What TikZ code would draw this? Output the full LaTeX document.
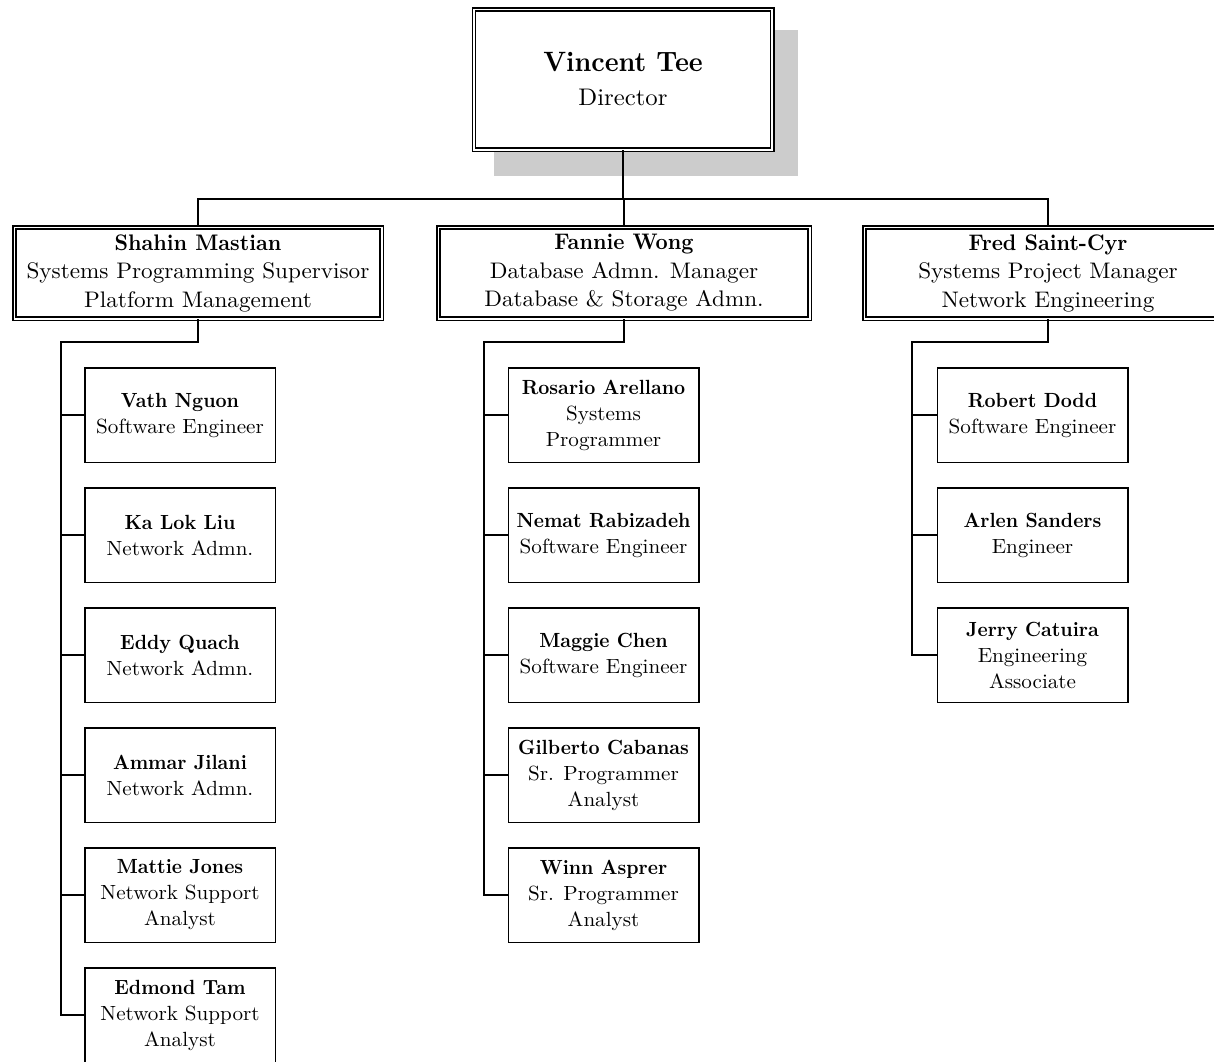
\documentclass[tikz,border=0pt]{standalone}
\usepackage{fontspec}
\setmainfont{lmroman10-regular.otf}[UprightFeatures={FakeStretch=1.03}, BoldFont=lmroman10-bold.otf, BoldFeatures={FakeStretch=0.94}]
\begin{document}
\begin{tikzpicture}[x=1pt,y=-1pt]
\tikzset{
  dbl/.style={draw, double, line width=1.5pt, double distance=1.8pt, fill=white, inner sep=0pt, align=center},
  topbox/.style={dbl, minimum width=298.2pt, minimum height=140.2pt, font=\fontsize{24}{34}\selectfont},
  midbox/.style={dbl, minimum height=91.2pt, font=\fontsize{22.5}{28.5}\selectfont},
  kidbox/.style={draw, line width=1.5pt, fill=white, minimum width=190.5pt, minimum height=94.5pt, inner sep=0pt, align=center, font=\fontsize{20.5}{26}\selectfont},
  link/.style={line width=1.6pt},
  shadowfill/.style={fill=black!20}
}
\clip (0,0) rectangle (1214,1061);
\fill[white] (0,0) rectangle (1214,1061);
% shadow of the director box
\fill[shadowfill] (494,30) rectangle (798,176);
% director
\node[topbox] (dir) at (623,79.5) {{\fontsize{28}{34}\selectfont\bfseries Vincent Tee}\\Director};
% managers
\node[midbox, minimum width=367.2pt] (sm) at (198,273) {{\bfseries Shahin Mastian}\\Systems Programming Supervisor\\Platform Management};
\node[midbox, minimum width=371.2pt] (fw) at (624,273) {{\bfseries Fannie Wong}\\Database Admn. Manager\\Database \& Storage Admn.};
\node[midbox, minimum width=367.2pt] (fs) at (1048,273) {{\bfseries Fred Saint-Cyr}\\Systems Project Manager\\Network Engineering};
% Shahin's team
\node[kidbox] (s1) at (180,415) {{\bfseries Vath Nguon}\\Software Engineer};
\node[kidbox] (s2) at (180,535) {{\bfseries Ka Lok Liu}\\Network Admn.};
\node[kidbox] (s3) at (180,655) {{\bfseries Eddy Quach}\\Network Admn.};
\node[kidbox] (s4) at (180,775) {{\bfseries Ammar Jilani}\\Network Admn.};
\node[kidbox] (s5) at (180,895) {{\bfseries Mattie Jones}\\Network Support\\Analyst};
\node[kidbox] (s6) at (180,1015) {{\bfseries Edmond Tam}\\Network Support\\Analyst};
% Fannie's team
\node[kidbox] (f1) at (603.5,415) {{\bfseries Rosario Arellano}\\Systems\\Programmer};
\node[kidbox] (f2) at (603.5,535) {{\bfseries Nemat Rabizadeh}\\Software Engineer};
\node[kidbox] (f3) at (603.5,655) {{\bfseries Maggie Chen}\\Software Engineer};
\node[kidbox] (f4) at (603.5,775) {{\bfseries Gilberto Cabanas}\\Sr. Programmer\\Analyst};
\node[kidbox] (f5) at (603.5,895) {{\bfseries Winn Asprer}\\Sr. Programmer\\Analyst};
% Fred's team
\node[kidbox] (r1) at (1032.5,415) {{\bfseries Robert Dodd}\\Software Engineer};
\node[kidbox] (r2) at (1032.5,535) {{\bfseries Arlen Sanders}\\Engineer};
\node[kidbox] (r3) at (1032.5,655) {{\bfseries Jerry Catuira}\\Engineering\\Associate};
% top-level connectors
\coordinate (bus) at (623,199);
\draw[link] (dir.south) -- (bus);
\draw[link] (sm.north) |- (bus) -| (fs.north);
\draw[link] (bus -| fw.north) -- (fw.north);
% Shahin branch
\coordinate (sb) at (61,342);
\draw[link] (sm.south) |- (sb) |- (s6.west);
\foreach \k in {1,...,5} { \draw[link] (sb |- s\k.west) -- (s\k.west); }
% Fannie branch
\coordinate (fb) at (484,342);
\draw[link] (fw.south) |- (fb) |- (f5.west);
\foreach \k in {1,...,4} { \draw[link] (fb |- f\k.west) -- (f\k.west); }
% Fred branch
\coordinate (rb) at (912,342);
\draw[link] (fs.south) |- (rb) |- (r3.west);
\foreach \k in {1,2} { \draw[link] (rb |- r\k.west) -- (r\k.west); }
\end{tikzpicture}
\end{document}
